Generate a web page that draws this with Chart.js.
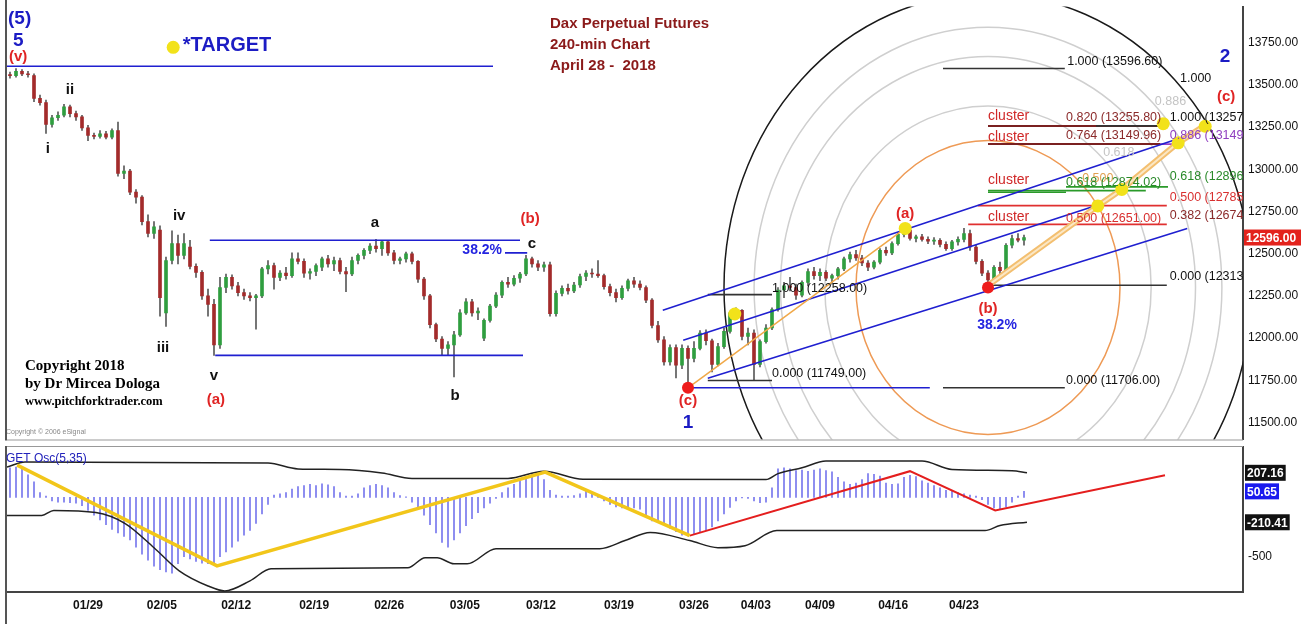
<!DOCTYPE html>
<html>
<head>
<meta charset="utf-8">
<title>Dax Perpetual Futures 240-min</title>
<script src="https://cdn.jsdelivr.net/npm/chart.js@4.4.1/dist/chart.umd.min.js"></script>
<style>
  html, body { margin: 0; padding: 0; background: #fff; }
  #wrap { position: relative; width: 1313px; height: 624px; overflow: hidden; }
  canvas { position: absolute; left: 0; }
  #priceChart { top: 0; }
  #oscChart { top: 446px; }
</style>
</head>
<body>
<div id="wrap">
  <canvas id="priceChart" width="1313" height="446"></canvas>
  <canvas id="oscChart" width="1313" height="178"></canvas>
</div>
<script>
const FONT = '"Liberation Sans", Arial, sans-serif';
const SERIF = '"Liberation Serif", "Times New Roman", serif';

// --- Candles (one per 240-min bar) ---
const opens = [
  13560,13555,13580,13565,13555,13420,13395,13265,13305,13320,
  13370,13330,13310,13245,13200,13195,13210,13190,13230,12975,
  12990,12865,12835,12690,12620,12640,12150,12460,12560,12490,
  12540,12425,12390,12250,12200,11960,12300,12360,12310,12270,
  12250,12240,12250,12410,12430,12360,12385,12370,12470,12455,
  12385,12395,12420,12470,12440,12460,12395,12380,12460,12490,
  12520,12545,12530,12570,12505,12460,12470,12500,12455,12350,
  12250,12080,11995,11940,11960,12020,12150,12215,12150,12000,
  12105,12190,12255,12330,12320,12355,12380,12470,12440,12420,
  12435,12145,12265,12295,12280,12315,12365,12385,12380,12370,
  12305,12270,12240,12295,12340,12320,12300,12225,12075,11990,
  11860,11945,11840,11940,11880,11940,12030,11985,11845,11950,
  12040,12150,12165,12010,12030,11845,11980,12060,12170,12285,
  12310,12300,12255,12330,12395,12370,12390,12355,12370,12410,
  12470,12495,12475,12445,12420,12450,12520,12505,12560,12615,
  12640,12590,12600,12585,12575,12580,12555,12530,12570,12585,
  12620,12540,12455,12385,12345,12420,12400,12550,12590,12580
];
const highs = [
  13575,13596,13590,13580,13565,13440,13410,13320,13340,13385,
  13380,13345,13320,13260,13215,13230,13225,13240,13280,13020,
  13000,12880,12845,12730,12690,12665,12480,12635,12610,12620,
  12580,12440,12400,12290,12230,12360,12380,12375,12330,12290,
  12270,12260,12420,12460,12445,12400,12420,12505,12505,12470,
  12410,12440,12480,12490,12480,12475,12420,12480,12500,12530,
  12560,12585,12580,12580,12520,12480,12510,12510,12460,12360,
  12260,12090,12010,11980,12040,12170,12235,12230,12180,12115,
  12200,12270,12340,12360,12370,12390,12490,12480,12460,12450,
  12450,12280,12310,12320,12330,12380,12400,12410,12460,12380,
  12320,12290,12310,12350,12360,12340,12310,12235,12100,12010,
  11960,11960,11960,11955,11980,12045,12050,11995,11970,12060,
  12160,12180,12170,12060,12050,11990,12080,12180,12300,12330,
  12360,12320,12340,12410,12420,12410,12400,12380,12420,12480,
  12510,12520,12490,12460,12460,12530,12540,12570,12625,12660,
  12650,12610,12615,12600,12595,12590,12570,12580,12600,12651,
  12640,12550,12465,12400,12430,12450,12560,12610,12620,12610
];
const lows = [
  13540,13545,13555,13545,13400,13380,13212,13250,13290,13310,
  13310,13290,13230,13170,13180,13185,13180,13180,12960,12945,
  12850,12800,12670,12600,12590,12130,12070,12440,12440,12470,
  12410,12360,12230,12130,11898,11940,12270,12290,12250,12230,
  12220,12054,12240,12380,12290,12340,12350,12360,12440,12360,
  12350,12370,12400,12420,12400,12380,12275,12370,12440,12470,
  12500,12510,12490,12490,12440,12440,12450,12440,12330,12230,
  12060,11980,11900,11898,11770,12010,12140,12130,12110,11985,
  12095,12180,12240,12300,12310,12330,12370,12420,12400,12395,
  12130,12130,12250,12260,12270,12300,12340,12360,12360,12290,
  12250,12215,12230,12280,12300,12285,12210,12060,11975,11840,
  11840,11765,11820,11706,11860,11930,11960,11800,11835,11940,
  12030,12120,11990,11960,11749,11830,11970,12050,12160,12240,
  12280,12230,12245,12310,12350,12340,12340,12320,12350,12400,
  12450,12460,12430,12400,12410,12440,12490,12495,12550,12600,
  12580,12570,12575,12560,12555,12540,12520,12520,12550,12570,
  12520,12440,12370,12313,12335,12380,12390,12535,12570,12550
];
const closes = [
  13555,13580,13565,13560,13420,13395,13265,13305,13320,13370,
  13330,13310,13245,13200,13195,13210,13190,13230,12975,12990,
  12865,12835,12690,12620,12660,12240,12460,12560,12490,12560,
  12425,12390,12250,12200,11960,12300,12360,12310,12270,12250,
  12240,12250,12410,12430,12360,12385,12370,12470,12455,12385,
  12395,12430,12470,12440,12460,12395,12380,12460,12490,12520,
  12545,12530,12570,12505,12460,12470,12500,12455,12350,12250,
  12080,11995,11940,11960,12020,12150,12215,12150,12160,12105,
  12190,12255,12330,12320,12355,12380,12470,12440,12420,12435,
  12145,12265,12295,12280,12315,12365,12385,12380,12370,12305,
  12270,12240,12295,12340,12320,12300,12225,12075,11990,11860,
  11945,11840,11940,11880,11940,12030,11985,11845,11950,12040,
  12150,12165,12010,12030,11845,11980,12060,12170,12285,12310,
  12300,12255,12330,12395,12370,12390,12355,12370,12410,12470,
  12495,12475,12445,12420,12450,12520,12505,12560,12615,12640,
  12590,12600,12585,12575,12580,12555,12530,12570,12585,12620,
  12540,12455,12385,12345,12420,12400,12550,12590,12580,12596
];
const lastPrice = 12596;

// --- Axes ---
const dateTicks = [13, 25.3, 37.7, 50.7, 63.2, 75.8, 88.5, 101.5, 114, 124.3, 135, 147.2, 159];
const dateLabels = ['01/29', '02/05', '02/12', '02/19', '02/26', '03/05', '03/12', '03/19', '03/26', '04/03', '04/09', '04/16', '04/23'];
const priceTicks = [11500, 11750, 12000, 12250, 12500, 12750, 13000, 13250, 13500, 13750];

// --- GET Osc(5,35) ---
const oscHist = [
  250,255,240,190,130,40,10,-30,-40,-40,
  -45,-50,-70,-110,-150,-190,-230,-270,-300,-330,
  -360,-420,-480,-530,-580,-610,-630,-640,-560,-500,
  -520,-540,-555,-560,-565,-500,-460,-420,-370,-320,
  -280,-220,-140,-60,20,30,40,70,90,100,
  110,100,115,105,90,40,10,10,30,80,
  100,110,100,80,40,15,5,-40,-90,-150,
  -230,-300,-380,-420,-360,-300,-240,-180,-130,-90,
  -50,-10,40,80,110,140,170,200,210,150,
  60,20,10,10,15,30,50,40,20,-30,
  -60,-80,-90,-80,-90,-100,-150,-200,-210,-230,
  -260,-290,-320,-325,-310,-290,-280,-250,-200,-140,
  -85,-30,-5,-10,-30,-45,-40,80,240,250,
  240,225,230,220,230,240,225,215,170,130,
  110,120,150,200,195,180,120,110,115,170,
  185,175,140,120,100,80,60,50,40,30,
  20,10,-20,-60,-90,-100,-80,-40,10,50
];
const upperBandIdx = [-0.5, 2.5, 43, 48, 55, 62, 67, 83, 89, 95.5, 126, 128, 132, 136, 152, 157, 167, 169.5];
const upperBand = [255, 298, 289, 240, 235, 205, 160, 160, 221, 153, 150, 200, 250, 306, 306, 235, 225, 207];
const lowerBandIdx = [-0.5, 5.3, 7.3, 14.3, 19.2, 24, 28.2, 33, 35.8, 40, 43.5, 66.3, 69.2, 71.2, 74, 76.2, 81, 98.3, 102.5, 106.7, 113.3, 118, 122.5, 127.8, 162.5, 165, 169.5];
const lowerBand = [-153, -153, -110, -128, -221, -425, -620, -748, -790, -705, -603, -595, -510, -510, -561, -561, -433, -433, -365, -297, -365, -425, -408, -280, -280, -238, -210];
const oscYellow = [[1.2, 272], [34.5, -578], [89.2, 213], [113.3, -323]];
const oscRed = [[113.3, -323], [150, 221], [164.2, -110], [192.5, 187]];
const oscTicks = [-500];
const oscTags = [207.16, 50.65, -210.41];

// --- Annotation geometry: [bar index, price] ---
const blueLines = [
  [[-0.5, 13610], [80.5, 13610]],
  [[33.3, 12580], [85, 12580]],
  [[34.2, 11898], [85.5, 11898]],
  [[82.5, 12505], [86.2, 12505]],
  [[113, 11706], [153.3, 11706]],
  [[108.8, 12166], [194.2, 13175]],
  [[112.2, 11988], [180.8, 12783]],
  [[116.3, 11763], [196.2, 12650]]
];
const blackLines = [
  [[155.5, 13596.6], [175.8, 13596.6]],
  [[155.5, 11706], [175.8, 11706]],
  [[116.3, 12258], [127, 12258]],
  [[116.3, 11749], [127, 11749]],
  [[163, 12313], [192.8, 12313]],
  [[181, 13257], [193, 13257]]
];
const maroonLines = [
  [[163, 13255.8], [191.7, 13255.8]],
  [[163, 13150], [191.7, 13150]]
];
const purpleLines = [[[176, 13149], [194.5, 13149]]];
const greenLines = [
  [[176, 12896], [193, 12896]],
  [[163, 12874], [189.3, 12874]],
  [[163, 12864], [176, 12864]]
];
const redLines = [
  [[161.3, 12785], [192.8, 12785]],
  [[159.7, 12674], [192.8, 12674]]
];
const orangeTrend = [[113, 11706], [149.2, 12650]];
const orangeProjection = [[163.3, 12320], [181.3, 12783], [185.3, 12881], [194.7, 13157], [199.2, 13260]];
const yellowDots = [[27.2, 13722], [120.8, 12143], [149.2, 12650], [181.3, 12783], [185.3, 12881], [194.7, 13157], [192.2, 13270], [199.2, 13255]];
const redDots = [[113, 11706], [163, 12300]];
const arcCenter = [163, 12300];
const arcRadius = [44, 1740];
const greyArcs = [0.618, 0.786, 0.886];

const notes = [
  [-0.33, 13889, '(5)', 'blueL'],
  [0.5, 13762, '5', 'blueL'],
  [-0.17, 13664, '(v)', 'redL'],
  [28.8, 13734, '*TARGET', 'target'],
  [90, 13860, 'Dax Perpetual Futures', 'title'],
  [90, 13734, '240-min Chart', 'title'],
  [90, 13613, 'April 28 -  2018', 'title'],
  [10, 13468, 'ii', 'black'],
  [6.3, 13123, 'i', 'black'],
  [25.5, 11942, 'iii', 'black'],
  [28.2, 12725, 'iv', 'black'],
  [34, 11774, 'v', 'black'],
  [34.3, 11636, '(a)', 'red'],
  [60.8, 12685, 'a', 'black'],
  [74.2, 11659, 'b', 'black'],
  [87, 12558, 'c', 'black'],
  [86.7, 12708, '(b)', 'red'],
  [78.7, 12523, '38.2%', 'pct'],
  [113, 11630, '(c)', 'red'],
  [113, 11498, '1', 'blueC'],
  [149.2, 12737, '(a)', 'red'],
  [163, 12172, '(b)', 'red'],
  [164.5, 12080, '38.2%', 'pct'],
  [202.5, 13664, '2', 'blueC'],
  [195, 13538, '1.000', 'fib'],
  [202.7, 13428, '(c)', 'red'],
  [190.8, 13399, '0.886', 'fibGrey'],
  [182.2, 13100, '0.618', 'fibGrey'],
  [178.7, 12944, '0.500', 'fibOrange'],
  [176.2, 13641, '1.000 (13596.60)', 'fib'],
  [163, 13313, 'cluster', 'cluster'],
  [163, 13192, 'cluster', 'cluster'],
  [163, 12938, 'cluster', 'cluster'],
  [163, 12719, 'cluster', 'cluster'],
  [176, 13307, '0.820 (13255.80)', 'fibMaroon'],
  [193.3, 13307, '1.000 (13257.', 'fib'],
  [176, 13198, '0.764 (13149.96)', 'fibMaroon'],
  [193.3, 13198, '0.886 (13149.', 'fibPurple'],
  [176, 12921, '0.618 (12874.02)', 'fibGreen'],
  [193.3, 12956, '0.618 (12896.', 'fibGreen'],
  [193.3, 12835, '0.500 (12785.', 'fibRed'],
  [176, 12708, '0.500 (12651.00)', 'fibRed'],
  [193.3, 12725, '0.382 (12674.', 'fibMaroon'],
  [193.3, 12362, '0.000 (12313.', 'fib'],
  [176, 11751, '0.000 (11706.00)', 'fib'],
  [127, 12293, '1.000 (12258.00)', 'fib'],
  [127, 11792, '0.000 (11749.00)', 'fib'],
  [2.5, 11832, 'Copyright 2018', 'copy'],
  [2.5, 11728, 'by Dr Mircea Dologa', 'copy'],
  [2.5, 11625, 'www.pitchforktrader.com', 'copyWeb'],
  [-0.67, 11446, 'Copyright \u00a9 2006 eSignal', 'tiny']
];

// --- Styles ---
const BLUE = '#1c1cc4';
const RED = '#e02424';
const noteStyles = {
  blueL: ['bold 19px ' + FONT, BLUE, 'left'],
  blueC: ['bold 19px ' + FONT, BLUE, 'center'],
  redL: ['bold 15px ' + FONT, RED, 'left'],
  red: ['bold 15px ' + FONT, RED, 'center'],
  black: ['bold 15px ' + FONT, '#111', 'center'],
  title: ['bold 15px ' + FONT, '#8b1a1a', 'left'],
  target: ['bold 20px ' + FONT, BLUE, 'left'],
  pct: ['bold 14px ' + FONT, '#2424e0', 'center'],
  fib: ['12.5px ' + FONT, '#111', 'left'],
  fibMaroon: ['12.5px ' + FONT, '#8b2a2a', 'left'],
  fibGreen: ['12.5px ' + FONT, '#2a8a2a', 'left'],
  fibRed: ['12.5px ' + FONT, '#d83030', 'left'],
  fibPurple: ['12.5px ' + FONT, '#9040c0', 'left'],
  fibGrey: ['12.5px ' + FONT, '#c4c4c4', 'left'],
  fibOrange: ['12.5px ' + FONT, '#e0a050', 'left'],
  cluster: ['14px ' + FONT, '#d02828', 'left'],
  copy: ['bold 15px ' + SERIF, '#000', 'left'],
  copyWeb: ['bold 12.5px ' + SERIF, '#000', 'left'],
  tiny: ['7px ' + FONT, '#888', 'left']
};

const barIdx = opens.map((_, i) => i);
const toXY = pts => pts.map(([x, y]) => ({ x, y }));

function segs(list, color, width) {
  return list.map(pts => ({
    type: 'line', data: toXY(pts), borderColor: color, borderWidth: width,
    pointRadius: 0, fill: false, order: 1
  }));
}

function dots(list, color, r) {
  return {
    type: 'line', showLine: false, data: toXY(list), pointRadius: r,
    pointBackgroundColor: color, pointBorderColor: color, pointBorderWidth: 0, order: 0
  };
}

function clipArea(ctx, a) {
  ctx.beginPath();
  ctx.rect(a.left, a.top, a.right - a.left, a.bottom - a.top);
  ctx.clip();
}

// --- Fibonacci arcs, drawn below the candles ---
const fibArcs = {
  id: 'fibArcs',
  beforeDatasetsDraw(chart) {
    const { ctx, chartArea, scales: { x, y } } = chart;
    const cx = x.getPixelForValue(arcCenter[0]);
    const cy = y.getPixelForValue(arcCenter[1]);
    const rx = Math.abs(x.getPixelForValue(arcCenter[0] + arcRadius[0]) - cx);
    const ry = Math.abs(y.getPixelForValue(arcCenter[1] + arcRadius[1]) - cy);
    ctx.save();
    clipArea(ctx, chartArea);
    const ring = (k, color, w) => {
      ctx.beginPath();
      ctx.ellipse(cx, cy, rx * k, ry * k, 0, 0, Math.PI * 2);
      ctx.strokeStyle = color;
      ctx.lineWidth = w;
      ctx.stroke();
    };
    greyArcs.forEach(k => ring(k, '#cfcfcf', 1.5));
    ring(0.5, '#ee9a55', 1.5);
    ring(1, '#1a1a1a', 1.5);
    ctx.restore();
  }
};

// --- Labels, frame and last-price tag ---
const priceNotes = {
  id: 'priceNotes',
  afterDatasetsDraw(chart) {
    const { ctx, chartArea, scales: { x, y } } = chart;
    ctx.save();
    clipArea(ctx, chartArea);
    ctx.textBaseline = 'middle';
    notes.forEach(([i, p, text, key]) => {
      const [font, color, align] = noteStyles[key];
      ctx.font = font;
      ctx.fillStyle = color;
      ctx.textAlign = align;
      ctx.fillText(text, x.getPixelForValue(i), y.getPixelForValue(p));
    });
    ctx.restore();
  },
  afterDraw(chart) {
    const { ctx, chartArea, scales: { y } } = chart;
    ctx.save();
    ctx.strokeStyle = '#555';
    ctx.lineWidth = 2;
    ctx.beginPath();
    ctx.moveTo(chartArea.left - 1, 0);
    ctx.lineTo(chartArea.left - 1, chartArea.bottom + 1);
    ctx.stroke();
    ctx.strokeStyle = '#999';
    ctx.lineWidth = 1;
    ctx.beginPath();
    ctx.moveTo(chartArea.left, chartArea.bottom + 0.5);
    ctx.lineTo(chartArea.right, chartArea.bottom + 0.5);
    ctx.stroke();

    const ty = y.getPixelForValue(lastPrice);
    ctx.fillStyle = '#e3221c';
    ctx.fillRect(chartArea.right + 1, ty - 8, 57, 16);
    ctx.fillStyle = '#fff';
    ctx.font = 'bold 12px ' + FONT;
    ctx.textBaseline = 'middle';
    ctx.textAlign = 'left';
    ctx.fillText(lastPrice.toFixed(2), chartArea.right + 3, ty + 1);
    ctx.restore();
  }
};

new Chart(document.getElementById('priceChart'), {
  type: 'bar',
  data: {
    datasets: [
      dots(yellowDots, '#f2e21a', 6.5),
      dots(redDots, '#ee1c1c', 6),
      {
        type: 'line', data: toXY(orangeProjection), borderColor: '#fbe7c4', borderWidth: 2,
        pointRadius: 0, order: 0.5
      },
      {
        type: 'line', data: toXY(orangeProjection), borderColor: '#f3bf70', borderWidth: 6,
        pointRadius: 0, order: 0.6
      },
      ...segs([orangeTrend], '#f0a848', 1.5),
      ...segs(blueLines, '#1f1fd0', 1.6),
      ...segs(blackLines, '#333', 1.6),
      ...segs(maroonLines, '#7a2020', 2),
      ...segs(purpleLines, '#9a40c8', 1.6),
      ...segs(greenLines, '#2a9a2a', 1.6),
      ...segs(redLines, '#e03030', 1.6),
      {
        type: 'bar',
        data: barIdx.map(i => ({ x: i, y: [opens[i], closes[i]] })),
        backgroundColor: barIdx.map(i => closes[i] >= opens[i] ? '#2f9e3f' : '#a32b2b'),
        barThickness: 3, minBarLength: 1, grouped: false, order: 2
      },
      {
        type: 'bar',
        data: barIdx.map(i => ({ x: i, y: [lows[i], highs[i]] })),
        backgroundColor: '#5a5a5a',
        barThickness: 1, grouped: false, order: 3
      }
    ]
  },
  options: {
    responsive: false,
    animation: false,
    events: [],
    layout: { padding: { left: 7, top: 0, right: 0, bottom: 1 } },
    plugins: { legend: { display: false }, tooltip: { enabled: false } },
    scales: {
      x: { type: 'linear', min: -0.5, max: 205.5, offset: false, display: false },
      y: {
        type: 'linear', position: 'right', min: 11400, max: 13964,
        grid: { display: false, drawTicks: false },
        border: { display: true, color: '#444', width: 2 },
        ticks: {
          padding: 5, color: '#111', font: { family: FONT, size: 12 },
          callback: v => Number(v).toFixed(2)
        },
        afterBuildTicks: s => { s.ticks = priceTicks.map(v => ({ value: v })); },
        afterFit: s => { s.width = 70; s.paddingTop = 0; s.paddingBottom = 0; }
      }
    }
  },
  plugins: [fibArcs, priceNotes]
});

// --- Oscillator panel ---
const oscDecor = {
  id: 'oscDecor',
  afterDraw(chart) {
    const { ctx, chartArea, scales: { y } } = chart;
    ctx.save();
    ctx.strokeStyle = '#555';
    ctx.lineWidth = 2;
    ctx.beginPath();
    ctx.moveTo(chartArea.left - 1, 0);
    ctx.lineTo(chartArea.left - 1, chart.height);
    ctx.stroke();
    ctx.strokeStyle = '#999';
    ctx.lineWidth = 1;
    ctx.beginPath();
    ctx.moveTo(chartArea.left, chartArea.top - 0.5);
    ctx.lineTo(chartArea.right, chartArea.top - 0.5);
    ctx.stroke();

    ctx.font = '12px ' + FONT;
    ctx.fillStyle = '#2222bb';
    ctx.textBaseline = 'middle';
    ctx.textAlign = 'left';
    ctx.fillText('GET Osc(5,35)', chartArea.left - 1, chartArea.top + 12);

    ctx.font = 'bold 12px ' + FONT;
    oscTags.forEach((v, k) => {
      const ty = y.getPixelForValue(v);
      const txt = v.toFixed(2);
      const w = ctx.measureText(txt).width + 4;
      ctx.fillStyle = k === 1 ? '#1a1aee' : '#111';
      ctx.fillRect(chartArea.right + 2, ty - 8, w, 16);
      ctx.fillStyle = '#fff';
      ctx.fillText(txt, chartArea.right + 4, ty + 1);
    });
    ctx.restore();
  }
};

new Chart(document.getElementById('oscChart'), {
  type: 'bar',
  data: {
    datasets: [
      {
        type: 'line', data: toXY(oscYellow), borderColor: '#f2c61a', borderWidth: 3.5,
        pointRadius: 0, order: 0
      },
      {
        type: 'line', data: toXY(oscRed), borderColor: '#e41e1e', borderWidth: 2,
        pointRadius: 0, order: 0
      },
      {
        type: 'line', data: upperBandIdx.map((x, k) => ({ x, y: upperBand[k] })),
        borderColor: '#222', borderWidth: 1.5, pointRadius: 0,
        cubicInterpolationMode: 'monotone', order: 1
      },
      {
        type: 'line', data: lowerBandIdx.map((x, k) => ({ x, y: lowerBand[k] })),
        borderColor: '#222', borderWidth: 1.5, pointRadius: 0,
        cubicInterpolationMode: 'monotone', order: 1
      },
      {
        type: 'bar', data: barIdx.map(i => ({ x: i, y: oscHist[i] })),
        backgroundColor: '#8c8cf0', barThickness: 1.3, grouped: false, order: 2
      }
    ]
  },
  options: {
    responsive: false,
    animation: false,
    events: [],
    layout: { padding: { left: 7, top: 1, right: 0, bottom: 0 } },
    plugins: { legend: { display: false }, tooltip: { enabled: false } },
    scales: {
      x: {
        type: 'linear', min: -0.5, max: 205.5, offset: false, position: 'bottom',
        grid: { display: false, drawTicks: false },
        border: { display: true, color: '#444', width: 2 },
        ticks: {
          autoSkip: false, maxRotation: 0, padding: 6, color: '#111',
          font: { family: FONT, size: 12, weight: 'bold' },
          callback: (v, i) => dateLabels[i]
        },
        afterBuildTicks: s => { s.ticks = dateTicks.map(v => ({ value: v })); },
        afterFit: s => { s.height = 32; s.paddingLeft = 0; s.paddingRight = 0; }
      },
      y: {
        type: 'linear', position: 'right', min: -799, max: 425,
        grid: { display: false, drawTicks: false },
        border: { display: true, color: '#444', width: 2 },
        ticks: { padding: 5, color: '#111', font: { family: FONT, size: 12 } },
        afterBuildTicks: s => { s.ticks = oscTicks.map(v => ({ value: v })); },
        afterFit: s => { s.width = 70; s.paddingTop = 0; s.paddingBottom = 0; }
      }
    }
  },
  plugins: [oscDecor]
});
</script>
</body>
</html>
